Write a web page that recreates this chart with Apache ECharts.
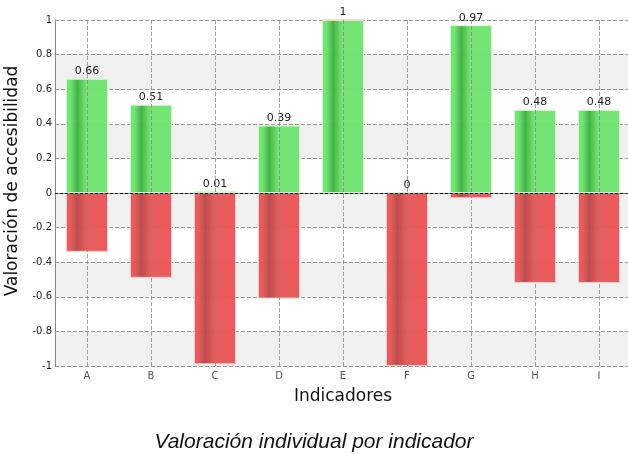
<!DOCTYPE html>
<html>
<head>
<meta charset="utf-8">
<script src="https://cdn.jsdelivr.net/npm/echarts@6/dist/echarts.min.js"></script>
<style>
  html, body { margin: 0; padding: 0; background: #fff; }
  #chart { width: 628px; height: 454px; }
</style>
</head>
<body>
<div id="chart"></div>
<script>
// indicadores y valoraciones (positiva / negativa)
const categories = ['A', 'B', 'C', 'D', 'E', 'F', 'G', 'H', 'I'];
const positivos = [0.66, 0.51, 0.01, 0.39, 1, 0, 0.97, 0.48, 0.48];
const negativos = [-0.34, -0.49, -0.99, -0.61, 0, -1, -0.03, -0.52, -0.52];

function barFill (light, dark) {
  return new echarts.graphic.LinearGradient(0, 0, 1, 0, [
    { offset: 0, color: light },
    { offset: 0.1, color: light },
    { offset: 0.27, color: dark },
    { offset: 0.48, color: light },
    { offset: 1, color: light }
  ]);
}

const font = 'DejaVu Sans';
const chart = echarts.init(document.getElementById('chart'));

const option = {
  animation: false,
  title: {
    text: 'Valoración individual por indicador',
    left: 'center',
    top: 427,
    textStyle: {
      fontFamily: 'Liberation Sans',
      fontStyle: 'italic',
      fontWeight: 'normal',
      fontSize: 21,
      color: '#111'
    }
  },
  grid: { left: 55, top: 20, width: 576, height: 346, outerBoundsMode: 'none' },
  xAxis: {
    type: 'category',
    data: categories,
    z: 3,
    name: 'Indicadores',
    nameLocation: 'middle',
    nameGap: 22,
    nameTextStyle: { fontFamily: font, fontSize: 17, color: '#111' },
    axisLine: { lineStyle: { color: '#888' } },
    axisTick: { alignWithLabel: true, length: 4, lineStyle: { color: '#888' } },
    axisLabel: { fontFamily: font, fontSize: 10, color: '#555', margin: 5 },
    splitLine: {
      show: true,
      alignWithLabel: true,
      lineStyle: { type: 'dashed', color: '#888', opacity: 0.8 }
    }
  },
  yAxis: {
    type: 'value',
    min: -1,
    max: 1,
    interval: 0.2,
    name: 'Valoración de accesibilidad',
    nameLocation: 'middle',
    nameGap: 34,
    nameTextStyle: { fontFamily: font, fontSize: 17, color: '#111', padding: [0, 0, 0, 24] },
    axisLine: { show: true, lineStyle: { color: '#888' } },
    axisTick: { show: false },
    axisLabel: {
      fontFamily: font,
      fontSize: 10,
      color: '#222',
      margin: 3,
      formatter: v => String(Math.round(v * 10) / 10)
    },
    splitLine: { lineStyle: { type: 'dashed', color: '#999' } },
    splitArea: { show: true, areaStyle: { color: ['#f0f0f0', '#ffffff'] } }
  },
  series: [
    {
      name: 'positivo',
      type: 'bar',
      stack: 'total',
      barWidth: 42,
      data: positivos,
      itemStyle: {
        color: barFill('#6de46d', '#3aae3a'),
        borderColor: '#d4f6d4',
        borderWidth: 1,
        opacity: 0.95
      },
      label: {
        show: true,
        position: 'top',
        distance: 2,
        fontFamily: font,
        fontSize: 11,
        color: '#111'
      },
      markLine: {
        silent: true,
        symbol: 'none',
        label: { show: false },
        lineStyle: { type: [3, 2], color: '#222', width: 1 },
        data: [{ yAxis: 0 }]
      }
    },
    {
      name: 'negativo',
      type: 'bar',
      stack: 'total',
      barWidth: 42,
      data: negativos,
      itemStyle: {
        color: barFill('#e85454', '#b84444'),
        borderColor: '#f5cccc',
        borderWidth: 1,
        opacity: 0.95
      }
    }
  ]
};

chart.setOption(option);
</script>
</body>
</html>
